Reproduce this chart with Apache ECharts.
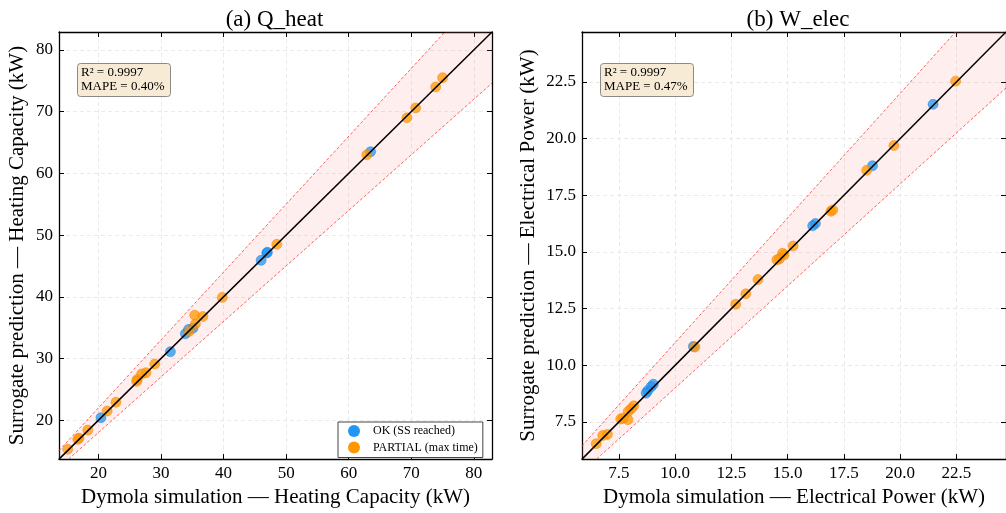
<!DOCTYPE html>
<html>
<head>
<meta charset="utf-8">
<script src="https://cdn.jsdelivr.net/npm/echarts@6/dist/echarts.min.js"></script>
<style>html,body{margin:0;padding:0;background:#fff}#c{width:1006px;height:513px}</style>
</head>
<body>
<div id="c"></div>
<script>
// ---------- data ----------
// (a) Q_heat : [Dymola, Surrogate]
const qOk = [[63.5,63.5],[46.9,47.1],[47.0,47.2],[46.0,45.9],[35.1,34.9],[34.4,34.7],[33.9,34.0],[31.5,31.1],[20.4,20.4]];
const qPartial = [[75.0,75.5],[73.9,74.0],[70.7,70.6],[69.3,69.0],[62.9,63.0],[48.5,48.5],[39.8,39.9],[35.4,37.0],[36.7,36.8],[35.5,35.6],[34.5,34.4],[29.0,29.1],[27.6,27.7],[26.9,27.5],[26.2,26.6],[26.1,26.3],[22.8,22.9],[21.4,21.5],[18.3,18.4],[16.9,17.1],[16.7,16.9],[15.1,15.3]];
// (b) W_elec
const wOk = [[21.46,21.51],[18.77,18.80],[16.23,16.25],[16.11,16.15],[10.81,10.83],[9.03,9.16],[8.93,9.05],[8.78,8.88],[8.71,8.77]];
const wPartial = [[22.46,22.53],[19.72,19.69],[18.51,18.60],[16.92,16.79],[17.00,16.85],[15.24,15.26],[14.84,14.87],[14.77,14.94],[14.63,14.69],[14.52,14.65],[13.68,13.78],[13.14,13.15],[12.69,12.69],[10.88,10.80],[8.16,8.21],[8.04,8.08],[7.91,7.96],[7.90,7.60],[7.58,7.63],[7.68,7.66],[6.99,6.95],[6.78,6.90],[6.49,6.54]];
const qTicks = [20,30,40,50,60,70,80];
const wTicks = [7.5,10.0,12.5,15.0,17.5,20.0,22.5];
const qRange = [13.7, 82.9];
const wRange = [5.86, 24.7];
const bandPct = 0.10;
const titles = ['(a) Q_heat', '(b) W_elec'];
const stats = ['R\u00b2 = 0.9997\nMAPE = 0.40%', 'R\u00b2 = 0.9997\nMAPE = 0.47%'];
const xNames = ['Dymola simulation \u2014 Heating Capacity (kW)', 'Dymola simulation \u2014 Electrical Power (kW)'];
const yNames = ['Surrogate prediction \u2014 Heating Capacity (kW)', 'Surrogate prediction \u2014 Electrical Power (kW)'];
const seriesNames = ['OK (SS reached)', 'PARTIAL (max time)'];
const colors = ['#2196F3', '#FF9800'];
const borders = ['#1976D2', '#F57C00'];

// ---------- chart ----------
const FONT = '"Liberation Serif", "DejaVu Serif", serif';
const chart = echarts.init(document.getElementById('c'), null, {renderer: 'canvas'});

const grids = [
  {left: 59, top: 32, width: 433, height: 432},
  {left: 582, top: 32, width: 432, height: 432}
];
const ranges = [qRange, wRange];
const ticks = [qTicks, wTicks];
const fmt = [v => String(v), v => v.toFixed(1)];
const yNameGap = [31, 43];

const xAxes = [], yAxes = [], series = [];
for (let g = 0; g < 2; g++) {
  const [lo, hi] = ranges[g];
  const base = {
    type: 'value', gridIndex: g, min: lo, max: hi,
    axisLine: {show: true, onZero: false, lineStyle: {color: '#000', width: 1.3}},
    axisTick: {show: true, inside: true, length: 5, customValues: ticks[g], lineStyle: {color: '#000', width: 1}},
  };
  xAxes.push(Object.assign({}, base, {
    position: 'bottom',
    name: xNames[g], nameLocation: 'middle', nameGap: 26,
    nameTextStyle: {fontFamily: FONT, fontSize: 21, color: '#000'},
    axisLabel: {customValues: ticks[g], formatter: fmt[g], margin: 6, fontFamily: FONT, fontSize: 17, color: '#000'},
    splitLine: {show: true, lineStyle: {color: '#e4e4e4', type: [4, 3], width: 0.8}}
  }));
  xAxes.push(Object.assign({}, base, {
    position: 'top', axisLabel: {show: false}, splitLine: {show: false}
  }));
  yAxes.push(Object.assign({}, base, {
    position: 'left',
    name: yNames[g], nameLocation: 'middle', nameGap: yNameGap[g], nameRotate: 90,
    nameTextStyle: {fontFamily: FONT, fontSize: 21, color: '#000'},
    axisLabel: {customValues: ticks[g], formatter: fmt[g], margin: 6, fontFamily: FONT, fontSize: 17, color: '#000'},
    splitLine: {show: true, lineStyle: {color: '#e4e4e4', type: [4, 3], width: 0.8}}
  }));
  yAxes.push(Object.assign({}, base, {
    position: 'right', axisLabel: {show: false}, splitLine: {show: false}
  }));

  const xi = g * 2, yi = g * 2;
  const up = 1 + bandPct, dn = 1 - bandPct;
  // band polygon clipped to the plot box
  const bandPts = [[lo, up * lo], [hi / up, hi], [hi, hi], [hi, dn * hi], [lo / dn, lo], [lo, lo]];
  series.push({
    type: 'custom', xAxisIndex: xi, yAxisIndex: yi, silent: true, z: 1,
    data: [0],
    renderItem: (params, api) => ({
      type: 'polygon',
      shape: {points: bandPts.map(p => api.coord(p))},
      style: {fill: 'rgba(255,120,120,0.13)'}
    })
  });
  series.push({
    type: 'line', xAxisIndex: xi, yAxisIndex: yi, silent: true, symbol: 'none', z: 2,
    data: [[lo, up * lo], [hi / up, hi]],
    lineStyle: {color: 'rgba(255,70,70,0.85)', width: 1, type: [3, 2]}
  });
  series.push({
    type: 'line', xAxisIndex: xi, yAxisIndex: yi, silent: true, symbol: 'none', z: 2,
    data: [[lo / dn, lo], [hi, dn * hi]],
    lineStyle: {color: 'rgba(255,70,70,0.85)', width: 1, type: [3, 2]}
  });
  series.push({
    type: 'line', xAxisIndex: xi, yAxisIndex: yi, silent: true, symbol: 'none', z: 5,
    data: [[lo, lo], [hi, hi]],
    lineStyle: {color: '#000', width: 1.5}
  });
  const sets = g === 0 ? [qOk, qPartial] : [wOk, wPartial];
  for (let s = 0; s < 2; s++) {
    series.push({
      type: 'scatter', name: seriesNames[s], xAxisIndex: xi, yAxisIndex: yi, z: 4,
      symbolSize: 10, data: sets[s],
      itemStyle: {color: colors[s], opacity: 0.75, borderColor: borders[s], borderWidth: 0.6}
    });
  }
}

chart.setOption({
  animation: false,
  backgroundColor: '#fff',
  textStyle: {fontFamily: FONT},
  title: [
    {text: titles[0], left: 269.5, top: 3, textAlign: 'center', textStyle: {fontFamily: FONT, fontSize: 23, fontWeight: 'normal', color: '#000'}},
    {text: titles[1], left: 793, top: 3, textAlign: 'center', textStyle: {fontFamily: FONT, fontSize: 23, fontWeight: 'normal', color: '#000'}},
    {text: stats[0], left: 77, top: 63, padding: [3, 6, 3, 4], backgroundColor: '#F7EBD5', borderColor: '#8a8a8a', borderWidth: 1, borderRadius: 3,
      textStyle: {fontFamily: FONT, fontSize: 13, fontWeight: 'normal', color: '#000', lineHeight: 14}},
    {text: stats[1], left: 600, top: 63, padding: [3, 6, 3, 4], backgroundColor: '#F7EBD5', borderColor: '#8a8a8a', borderWidth: 1, borderRadius: 3,
      textStyle: {fontFamily: FONT, fontSize: 13, fontWeight: 'normal', color: '#000', lineHeight: 14}}
  ],
  legend: {
    data: seriesNames, orient: 'vertical', left: 338, top: 422,
    padding: [3, 5, 4, 10], itemGap: 4.5, itemWidth: 28, itemHeight: 12,
    icon: 'circle', backgroundColor: '#fff', borderColor: '#444', borderWidth: 1,
    itemStyle: {opacity: 1, borderWidth: 0},
    textStyle: {fontFamily: FONT, fontSize: 12, color: '#000'}
  },
  grid: grids,
  xAxis: xAxes,
  yAxis: yAxes,
  series: series
});
</script>
</body>
</html>
